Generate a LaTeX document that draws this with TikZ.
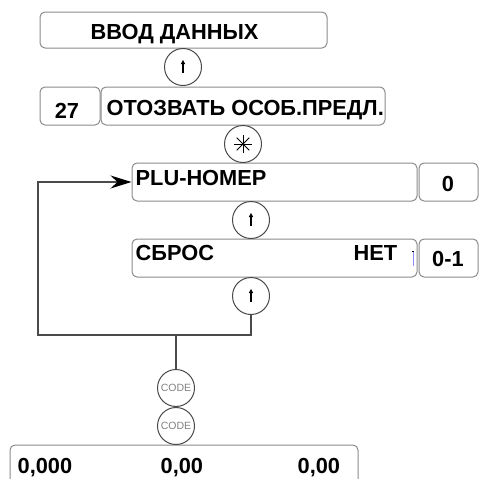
\documentclass[tikz,border=0pt]{standalone}
\usepackage{fontspec}
\setmainfont{Liberation Sans}
\usetikzlibrary{arrows.meta}
\definecolor{frame}{HTML}{8A8A8A}
\definecolor{wire}{HTML}{4A4A4A}
\tikzset{
  keybox/.style={draw=frame, line width=1pt, rounded corners=5pt, inner sep=0pt},
  keycirc/.style={draw=wire, circle, line width=1pt, minimum size=37pt, inner sep=0pt},
  lbl/.style={font=\fontsize{21.8}{24}\selectfont\bfseries, inner sep=0pt, anchor=base west},
  codelbl/.style={font=\fontsize{10.5}{10}\selectfont, text=black!50}
}
\newcommand{\keyglyph}[1]{%
  \fill[black] ([shift={(-2.2,-3)}]#1.center) -- ([shift={(0,-7)}]#1.center) -- ([shift={(2.2,-3)}]#1.center) -- cycle;
  \fill[black] ([shift={(-0.8,-4)}]#1.center) rectangle ([shift={(0.8,6)}]#1.center);}
\begin{document}
\begin{tikzpicture}[x=1pt, y=-1pt, line width=1.3pt]
        \useasboundingbox (0,0) rectangle (480,479);
        \clip (0,0) rectangle (480,479);
        \node[keybox, minimum width=287, minimum height=36] (entry) at (183.5,30) {};
        \node[keybox, minimum width=60, minimum height=38] (code27) at (70,106) {};
        \node[keybox, minimum width=284, minimum height=38] (recall) at (243,106) {};
        \node[keybox, minimum width=285, minimum height=38] (plu) at (274.5,182) {};
        \node[keybox, minimum width=59, minimum height=38] (pluval) at (448.5,182) {};
        \node[keybox, minimum width=285, minimum height=38] (reset) at (274.5,258) {};
        \node[keybox, minimum width=59, minimum height=38] (resetval) at (448.5,258) {};
        \node[keybox, minimum width=348, minimum height=56] (total) at (184,473) {};
        \node[lbl] (entrytxt) at (90,39) {ВВОД ДАННЫХ};
        \node[lbl, anchor=base] (codetxt) at (67,118) {27};
        \node[lbl] (recalltxt) at (106,115) {ОТОЗВАТЬ ОСОБ.ПРЕДЛ.};
        \node[lbl] (plutxt) at (135,185) {PLU-НОМЕР};
        \node[lbl, anchor=base] (pluvaltxt) at (448,191) {0};
        \node[lbl] (resettxt) at (135,260) {СБРОС};
        \node[lbl] (notxt) at (353,260) {НЕТ};
        \node[lbl, anchor=base] (resetvaltxt) at (448,266) {0-1};
        \node[lbl] (qtytxt) at (17,473) {0,000};
        \node[lbl] (pricetxt) at (160,473) {0,00};
        \node[lbl] (sumtxt) at (297,473) {0,00};
        \draw[blue!45, line width=0.5pt] (413,251) -- (413,266);
        \draw[black, line width=0.8pt] (412,251) -- (414,251);
        \node[keycirc] (k1) at (183,67) {};
        \node[keycirc] (ast) at (243,144) {};
        \node[keycirc] (k2) at (251,220) {};
        \node[keycirc] (k3) at (251,296) {};
        \node[keycirc, codelbl] (code1) at (176,388) {CODE};
        \node[keycirc, codelbl] (code2) at (176,426) {CODE};
        \keyglyph{k1}
        \keyglyph{k2}
        \keyglyph{k3}
        \foreach \a in {0,45,90,135}
          \draw[line width=1pt] ([shift={(\a:9)}]ast.center) -- ([shift={(\a+180:9)}]ast.center);
        \coordinate (loopturn) at (38,335);
        \draw[wire, -{Stealth[length=21pt, width=13pt, inset=7pt, color=black]}] (k3.south) |- (loopturn) |- (plu.west);
        \draw[wire] (code1.north) -- (code1.north |- loopturn);
      \end{tikzpicture}
\end{document}
